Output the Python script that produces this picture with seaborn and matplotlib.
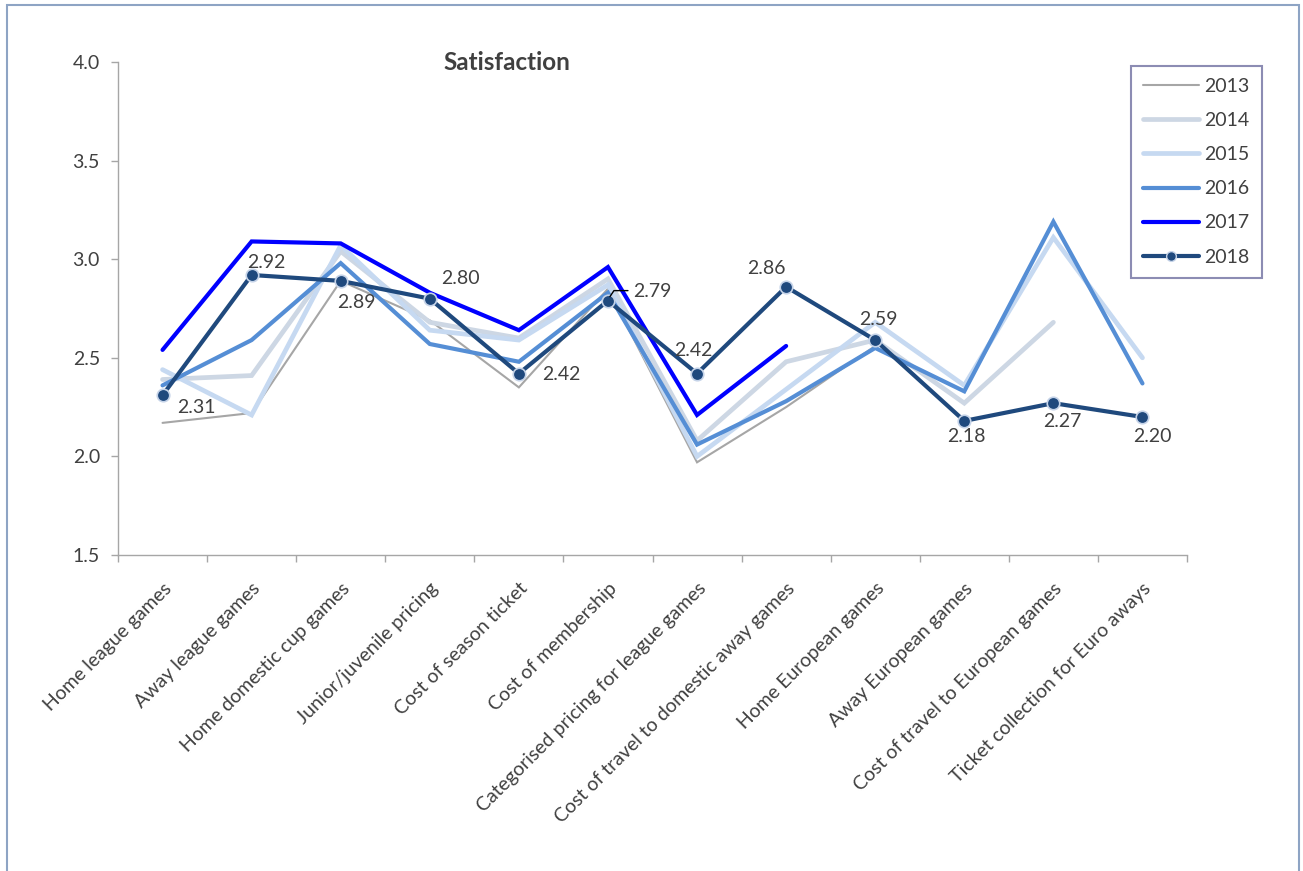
import numpy as np
import pandas as pd
import matplotlib
matplotlib.use("Agg")
import matplotlib.pyplot as plt
import seaborn as sns
from matplotlib.lines import Line2D
from matplotlib.patches import Rectangle
from matplotlib.transforms import ScaledTranslation

nan = np.nan

categories = [
    "Home league games",
    "Away league games",
    "Home domestic cup games",
    "Junior/juvenile pricing",
    "Cost of season ticket",
    "Cost of membership",
    "Categorised pricing for league games",
    "Cost of travel to domestic away games",
    "Home European games",
    "Away European games",
    "Cost of travel to European games",
    "Ticket collection for Euro aways",
]

years = ["2013", "2014", "2015", "2016", "2017", "2018"]

s2013 = [2.17, 2.22, 2.89, 2.69, 2.35, 2.85, 1.97, 2.25, 2.56, nan, nan, nan]
s2014 = [2.39, 2.41, 3.04, 2.68, 2.60, 2.90, 2.08, 2.48, 2.59, 2.27, 2.68, nan]
s2015 = [2.44, 2.21, 3.07, 2.64, 2.59, 2.87, 2.00, 2.34, 2.68, 2.36, 3.11, 2.50]
s2016 = [2.36, 2.59, 2.98, 2.57, 2.48, 2.83, 2.06, 2.28, 2.55, 2.33, 3.19, 2.37]
s2017 = [2.54, 3.09, 3.08, 2.83, 2.64, 2.96, 2.21, 2.56, nan, nan, nan, nan]
s2018 = [2.31, 2.92, 2.89, 2.80, 2.42, 2.79, 2.42, 2.86, 2.59, 2.18, 2.27, 2.20]

series = [s2013, s2014, s2015, s2016, s2017, s2018]

colors = ["#a6a6a6", "#cdd7e4", "#c6d9f1", "#558ed5", "#0000ff", "#1f497d"]
widths = [1.5, 3.4, 3.4, 3.0, 3.0, 3.0]

# pixel offsets (x right, y up) for the 2018 value labels
label_offsets = [(34, -12), (15, 12), (16, -22), (31, 20), (42, -1), (44, 9),
                 (-4, 23), (-20, 18), (3, 21), (2, -16), (9, -18), (10, -20)]

rows = []
for yr, vals in zip(years, series):
    for i, v in enumerate(vals):
        rows.append({"year": yr, "pos": i, "score": v})
df = pd.DataFrame(rows)

sns.set_style("white")
plt.rcParams["font.family"] = ["Lato", "DejaVu Sans"]
text_color = "#404040"
fs = 14

W, H = 1303, 871
fig = plt.figure(figsize=(W / 100, H / 100), dpi=100)
ax = fig.add_axes([118 / W, 1 - 555 / H, (1187 - 118) / W, (555 - 62) / H])

for yr, col, lw in zip(years, colors, widths):
    sub = df[(df["year"] == yr)].dropna()
    kw = {}
    if yr == "2018":
        kw = dict(marker="o", markersize=9, markerfacecolor=col,
                  markeredgecolor="#c5d3e8", markeredgewidth=1.2)
    sns.lineplot(data=sub, x="pos", y="score", ax=ax, color=col, linewidth=lw,
                 sort=False, legend=False, solid_joinstyle="miter", **kw)

ax.set_xlim(-0.5, len(categories) - 0.5)
ax.set_ylim(1.5, 4.0)
ax.set_xlabel("")
ax.set_ylabel("")

# axes styling
for side in ["top", "right"]:
    ax.spines[side].set_visible(False)
for side in ["left", "bottom"]:
    ax.spines[side].set_color("#a6a6a6")
    ax.spines[side].set_linewidth(1.0)

ax.set_yticks(np.arange(1.5, 4.01, 0.5))
ax.set_yticklabels([f"{t:.1f}" for t in np.arange(1.5, 4.01, 0.5)])
ax.tick_params(axis="y", which="major", left=True, length=5, width=1,
               color="#a6a6a6", labelsize=fs, labelcolor=text_color, pad=8)

ax.set_xticks(np.arange(len(categories)))
ax.set_xticklabels(categories)
ax.set_xticks(np.arange(-0.5, len(categories)), minor=True)
ax.tick_params(axis="x", which="major", bottom=True, length=0,
               labelsize=fs, labelcolor=text_color, pad=22)
ax.tick_params(axis="x", which="minor", bottom=True, length=5, width=1,
               color="#a6a6a6")
shift = ScaledTranslation(6 / 100, 0, fig.dpi_scale_trans)
for lab in ax.get_xticklabels():
    lab.set_rotation(45)
    lab.set_ha("right")
    lab.set_va("center")
    lab.set_rotation_mode("anchor")
    lab.set_transform(lab.get_transform() + shift)

# value labels on the 2018 line
for i, (v, (dx, dy)) in enumerate(zip(s2018, label_offsets)):
    ax.annotate(f"{v:.2f}", (i, v), xytext=(dx, dy), textcoords="offset pixels",
                ha="center", va="center", fontsize=fs, color=text_color)

# short leader line for the "Cost of membership" label
px, py = ax.transData.transform((5, s2018[5]))
fig.add_artist(Line2D([px + 2, px + 6, px + 20], [py + 4, py + 10, py + 10],
                      transform=None, color="black", linewidth=1.0))

fig.text(507 / W, 1 - 62 / H, "Satisfaction", ha="center", va="center",
         fontsize=17.5, fontweight="bold", color=text_color)

handles = []
for yr, col, lw in zip(years, colors, widths):
    if yr == "2018":
        handles.append(Line2D([], [], color=col, linewidth=lw, marker="o",
                              markersize=7, markerfacecolor=col,
                              markeredgecolor="#c5d3e8", markeredgewidth=1.0))
    else:
        handles.append(Line2D([], [], color=col, linewidth=lw))
leg = ax.legend(handles, years, loc="upper left",
                bbox_to_anchor=(1131 / W, 1 - 66 / H), bbox_transform=fig.transFigure,
                frameon=True, fancybox=False, fontsize=fs, handlelength=2.9,
                handletextpad=0.25, labelspacing=0.88, borderpad=0.62,
                borderaxespad=0)
leg.get_frame().set_edgecolor("#7070a0")
leg.get_frame().set_linewidth(1.5)
for t in leg.get_texts():
    t.set_color(text_color)

# outer chart frame
fig.add_artist(Rectangle((7 / W, -0.02), (1299 - 7) / W, 1.02 - 5 / H,
                         transform=fig.transFigure, fill=False,
                         edgecolor="#8ea4c4", linewidth=1.5))

fig.savefig("out.png", dpi=100, facecolor="white")
